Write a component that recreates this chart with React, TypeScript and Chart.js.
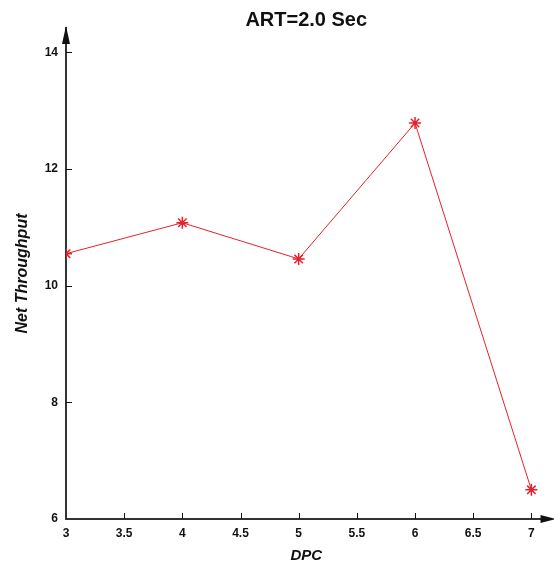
import React, { useEffect, useRef } from "react";
import { Chart, registerables } from "chart.js";

Chart.register(...registerables);

const dpc = [3, 4, 5, 6, 7];
const netThroughput = [10.55, 11.08, 10.46, 12.79, 6.5];
const xTicks = [3, 3.5, 4, 4.5, 5, 5.5, 6, 6.5, 7];
const yTicks = [6, 8, 10, 12, 14];
const titleText = "ART=2.0 Sec";
const xTitle = "DPC";
const yTitle = "Net Throughput";

const FONT = "Arial, Liberation Sans, sans-serif";

const axisArrows = {
  id: "axisArrows",
  afterDraw(chart: any) {
    const ctx = chart.ctx;
    const { left, right, top, bottom } = chart.chartArea;
    const xs = chart.scales.x;
    const ys = chart.scales.y;
    ctx.save();
    ctx.strokeStyle = "#111";
    ctx.fillStyle = "#111";
    ctx.lineWidth = 1;
    for (const v of xTicks) {
      if (v === xs.min) continue;
      const px = Math.round(xs.getPixelForValue(v)) + 0.5;
      ctx.beginPath();
      ctx.moveTo(px, bottom);
      ctx.lineTo(px, bottom - 6);
      ctx.stroke();
    }
    for (const v of yTicks) {
      if (v === ys.min) continue;
      const py = Math.round(ys.getPixelForValue(v)) + 0.5;
      ctx.beginPath();
      ctx.moveTo(left, py);
      ctx.lineTo(left + 6, py);
      ctx.stroke();
    }
    ctx.beginPath();
    ctx.moveTo(left, top - 2);
    ctx.lineTo(left - 4, top + 16);
    ctx.lineTo(left + 4, top + 16);
    ctx.closePath();
    ctx.fill();
    // extend x axis line to the arrow
    ctx.lineWidth = 2;
    ctx.strokeStyle = "#333";
    ctx.beginPath();
    ctx.moveTo(right - 1, bottom);
    ctx.lineTo(right + 4, bottom);
    ctx.stroke();
    ctx.beginPath();
    ctx.moveTo(right + 9, bottom);
    ctx.lineTo(right - 6, bottom - 4);
    ctx.lineTo(right - 6, bottom + 4);
    ctx.closePath();
    ctx.fill();
    ctx.restore();
  },
};

export default function App() {
  const ref = useRef<HTMLCanvasElement>(null);
  useEffect(() => {
    if (!ref.current) return;
    const chart = new Chart(ref.current, {
      type: "line",
      data: {
        datasets: [
          {
            data: dpc.map((x, i) => ({ x, y: netThroughput[i] })),
            borderColor: "#e8202a",
            backgroundColor: "#e8202a",
            borderWidth: 1,
            pointStyle: "star",
            pointRadius: 6,
            pointBorderWidth: 1.5,
            pointBorderColor: "#e8202a",
            tension: 0,
          },
        ],
      },
      plugins: [axisArrows],
      options: {
        animation: false,
        responsive: false,
        maintainAspectRatio: false,
        layout: { padding: { right: 0, left: 0, top: 0, bottom: 0 } },
        plugins: {
          legend: { display: false },
          tooltip: { enabled: false },
          title: {
            display: true,
            text: titleText,
            fullSize: false,
            color: "#111",
            font: { family: FONT, size: 20, weight: "bold", lineHeight: 0.8 },
            padding: { top: 12, bottom: 0 },
          },
        },
        scales: {
          x: {
            type: "linear",
            min: 3,
            max: 7.13,
            afterBuildTicks: (s: any) => {
              s.ticks = xTicks.map((v) => ({ value: v }));
            },
            afterFit: (s: any) => {
              s.height = 51;
            },
            grid: { display: false, drawTicks: false },
            border: { display: true, color: "#333", width: 2 },
            ticks: {
              color: "#111",
              padding: 7,
              maxRotation: 0,
              autoSkip: false,
              font: { family: FONT, size: 12, weight: "bold" },
              callback: (v: any) => String(v),
            },
            title: {
              display: true,
              text: xTitle,
              color: "#111",
              font: { family: FONT, size: 15, style: "italic", weight: "bold" },
              padding: { top: 0, bottom: 5 },
            },
          },
          y: {
            type: "linear",
            min: 6,
            max: 14.42,
            afterBuildTicks: (s: any) => {
              s.ticks = yTicks.map((v) => ({ value: v }));
            },
            afterFit: (s: any) => {
              s.width = 66;
            },
            grid: { display: false, drawTicks: false },
            border: { display: true, color: "#333", width: 2 },
            ticks: {
              color: "#111",
              padding: 8,
              autoSkip: false,
              font: { family: FONT, size: 12, weight: "bold" },
            },
            title: {
              display: true,
              text: yTitle,
              color: "#111",
              font: { family: FONT, size: 16, style: "italic", weight: "bold" },
              padding: { top: 13, bottom: 0 },
            },
          },
        },
      },
    } as any);
    return () => chart.destroy();
  }, []);
  return (
    <div style={{ position: "absolute", left: 0, top: 0, width: 554, height: 570, background: "#fff" }}>
      <canvas ref={ref} width={554} height={570} style={{ display: "block", width: 554, height: 570 }} />
    </div>
  );
}
